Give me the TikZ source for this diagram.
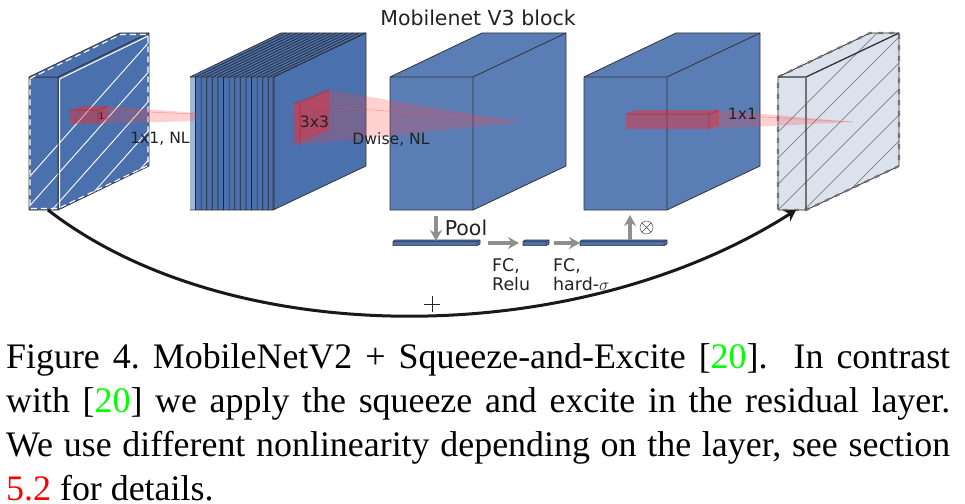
\documentclass[tikz,border=0pt]{standalone}
\usepackage{fontspec}
\setmainfont{Liberation Serif}
\newfontfamily\labelfont{DejaVu Sans}
\usetikzlibrary{arrows.meta}
\definecolor{deepblue}{HTML}{4A71AE}
\definecolor{midblue}{HTML}{5B7DB6}
\definecolor{paleblue}{HTML}{DBE2EE}
\definecolor{stripblue}{HTML}{A3B6D4}
\definecolor{darktext}{HTML}{222222}
\definecolor{arrowgray}{HTML}{8F8F8F}
\definecolor{capgreen}{HTML}{00FF00}
\tikzset{
  edge/.style={draw=black!80,line width=.8pt,line join=round},
  inputhatch/.style={white,line width=.9pt},
  outputhatch/.style={black!50,line width=.7pt},
  whitedash/.style={white,line width=1.1pt,dash pattern=on 6pt off 4pt},
  graydash/.style={black!55,line width=2.2pt,dash pattern=on 5pt off 6pt},
  conefill/.style={fill=red!75!white,fill opacity=.24},
  prismfill/.style={fill=red!85!white,fill opacity=.42},
  prismedge/.style={draw=red!85!black,draw opacity=.55,line width=.6pt},
  graylink/.style={arrowgray,line width=3.2pt,-{Stealth[length=11pt,width=12pt]}},
  lab/.style={inner sep=0pt,text=darktext,font=\labelfont\fontsize{15.6}{19.5}\selectfont},
  fclab/.style={lab,align=left,anchor=north west,font=\labelfont\fontsize{17.4}{19.5}\selectfont},
  biglab/.style={lab,font=\labelfont\fontsize{20.5}{24}\selectfont},
  barface/.style={fill=deepblue,draw=black!80,line width=.7pt}
}
\begin{document}
\begin{tikzpicture}[x=1pt,y=-1pt,line join=round]
  \useasboundingbox (0,0) rectangle (965,503);
  \fill[deepblue] (29,77)--(120,33)--(149,33)--(149,166)--(58,210)--(29,210)--cycle;
  \begin{scope}
    \clip (29,77)--(120,33)--(149,33)--(149,166)--(58,210)--(29,210)--cycle;
    \foreach \i in {0,26,...,260}
      \draw[inputhatch] (\i,210)--++(190,-214);
  \end{scope}
  \draw[edge] (29,77)--(120,33)--(149,33)--(149,166)--(58,210)--(29,210)--cycle;
  \draw[edge,line width=1pt] (29,77)--(58,77)--(149,33) (58,77)--(58,210);
  \draw[whitedash] (30,78.5)--(121,34.5)--(148,34.5)--(148,165.5)--(58,208.5)--(30,208.5)--cycle;
  \draw[white,line width=1pt] (59.5,79)--(148,36) (59.5,79)--(59.5,208);
  \fill[stripblue] (190,77) rectangle (196,210);
  \fill[deepblue] (196,77)--(190,77)--(281,33)--(366,33)--(366,166)--(273,210)--(196,210)--cycle;
  \foreach \i in {0,...,14}
    \draw[black!85,line width=.7pt] ({195.5+\i*5.6},210)--({195.5+\i*5.6},77)--({286+\i*5.6},33);
  \draw[edge] (190,77)--(281,33)--(366,33)--(366,166)--(273,210);
  \draw[edge] (190,77)--(273,77)--(366,33) (273,77)--(273,210)--(190,210);
  \foreach \front/\back in {390/482,584/676}{
    \fill[midblue] (\front,77)--(\back,33)--(\back+84,33)--(\back+84,166)--(\front+83,210)--(\front,210)--cycle;
    \draw[edge] (\front,77)--(\back,33)--(\back+84,33)--(\back+84,166)--(\front+83,210)--(\front,210)--cycle;
    \draw[edge] (\front,77)--(\front+83,77)--(\back+84,33) (\front+83,77)--(\front+83,210);
  }
  \fill[paleblue] (778,77)--(870,33)--(899,33)--(899,166)--(806,210)--(778,210)--cycle;
  \begin{scope}
    \clip (778,77)--(870,33)--(899,33)--(899,166)--(806,210)--(778,210)--cycle;
    \foreach \i in {700,726,...,1000}
      \draw[outputhatch] (\i,210)--++(190,-190);
  \end{scope}
  \draw[edge] (778,77)--(870,33)--(899,33)--(899,166)--(806,210)--(778,210)--cycle;
  \draw[graydash] (778,77)--(870,33)--(899,33)--(899,166)--(806,210)--(778,210)--cycle;
  \draw[edge,line width=1.3pt] (778,77)--(806,77)--(899,33) (806,77)--(806,210);
  \draw[graydash] (806,77)--(806,210);
  \fill[conefill] (108,106)--(196,113)--(196,121)--(98,124)--cycle;
  \draw[red!70,opacity=.4,line width=.6pt] (98,110)--(196,114);
  \fill[prismfill] (70,110)--(98,110)--(98,124)--(70,124)--cycle;
  \fill[prismfill] (70,110)--(82,106)--(108,106)--(98,110)--cycle;
  \fill[prismfill] (98,110)--(108,106)--(108,119)--(98,124)--cycle;
  \draw[prismedge] (70,110)--(98,110)--(108,106) (98,110)--(98,124);
  \fill[conefill] (329,90)--(520,122)--(300,145)--(294,105)--cycle;
  \draw[red!70,opacity=.4,line width=.6pt] (300,104)--(520,122);
  \fill[prismfill] (294,104)--(329,90)--(329,130)--(294,145)--cycle;
  \draw[prismedge] (294,104)--(329,90) (300,104)--(300,145);
  \fill[conefill] (719,110)--(853,122)--(709,129)--cycle;
  \draw[red!70,opacity=.4,line width=.6pt] (709,114)--(853,122);
  \fill[prismfill] (626,114)--(709,114)--(709,129)--(626,129)--cycle;
  \fill[prismfill] (626,114)--(636,110)--(719,110)--(709,114)--cycle;
  \fill[prismfill] (709,114)--(719,110)--(719,125)--(709,129)--cycle;
  \draw[prismedge] (626,114)--(709,114)--(719,110) (709,114)--(709,129);
  \foreach \x/\w in {393/84,523/23,580/84}{
    \draw[barface] (\x,241.5)--(\x+2,240)--(\x+\w+3,240)--(\x+\w+3,244)--(\x+\w,245.6)--(\x,245.6)--cycle;
    \draw[edge,line width=.5pt] (\x,241.5)--(\x+\w,241.5)--(\x+\w+3,240) (\x+\w,241.5)--(\x+\w,245.6);
  }
  \coordinate (poolstart) at (436,216);
  \coordinate (poolend) at (436,241);
  \coordinate (relustart) at (488,243);
  \coordinate (reluend) at (519,243);
  \coordinate (sigmastart) at (554,243);
  \coordinate (sigmaend) at (580,243);
  \coordinate (scalestart) at (630,240);
  \coordinate (scaleend) at (630,215);
  \coordinate (skipstart) at (48,210);
  \coordinate (skipend) at (796,210);
  \draw[graylink] (poolstart)--(poolend);
  \draw[graylink] (relustart)--(reluend);
  \draw[graylink] (sigmastart)--(sigmaend);
  \draw[graylink] (scalestart)--(scaleend);
  \node[biglab] (title) at (478,18) {Mobilenet V3 block};
  \node[lab,font=\labelfont\fontsize{9}{11}\selectfont] (one) at (101.5,116) {1};
  \node[lab] (convone) at (160,139) {1x1, NL};
  \node[lab] (convthree) at (314.5,122) {3x3};
  \node[lab] (dwise) at (391,139) {Dwise, NL};
  \node[lab] (convlast) at (742.5,114) {1x1};
  \node[biglab] (pool) at (466,228) {Pool};
  \node[fclab] (fcrelu) at (492,258) {FC,\\Relu};
  \node[fclab] (fcsigma) at (553,258) {FC,\\hard-$\sigma$};
  \draw[black!90,line width=3pt,-{Stealth[length=11pt,width=13pt]}] (skipstart) .. controls (230,351) and (575,351) .. (skipend);
  \node[draw=black!70,circle,line width=.5pt,minimum size=13pt,inner sep=0pt] (scale) at (646.5,227.5) {};
  \draw[black!70,line width=.5pt] (scale.north west)--(scale.south east) (scale.north east)--(scale.south west);
  \coordinate (plus) at (432,304);
  \draw[black!85,line width=.7pt] (plus)++(-8,0)--++(16,0) (plus)++(0,-8)--++(0,16);
  \node[inner sep=0pt,anchor=north west,text width=945pt,align=left,font=\fontsize{35.9}{44}\selectfont] (caption) at (6,343) {\frenchspacing\spaceskip=0pt\xspaceskip=0pt\makebox[944pt][s]{Figure 4. MobileNetV2 + Squeeze-and-Excite [\textcolor{capgreen}{20}].\ \ In contrast}\\\makebox[944pt][s]{with [\textcolor{capgreen}{20}] we apply the squeeze and excite in the residual layer.}\\\makebox[944pt][s]{We use different nonlinearity depending on the layer, see section}\\\textcolor{red}{5.2} for details.};
\end{tikzpicture}
\end{document}
